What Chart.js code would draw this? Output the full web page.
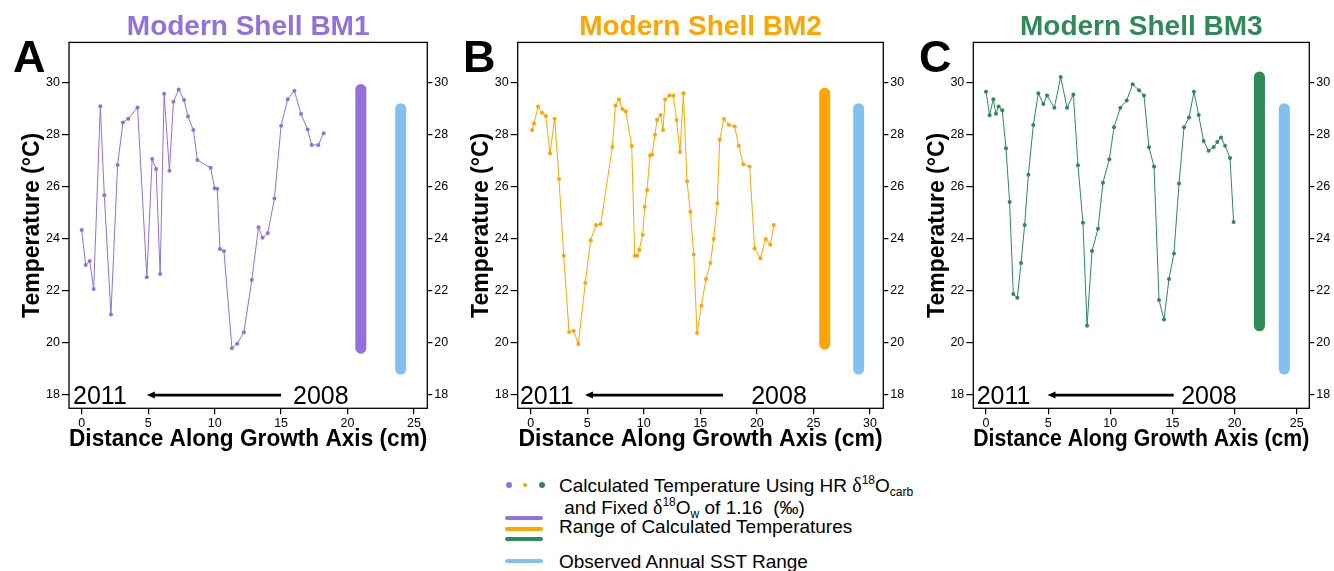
<!DOCTYPE html>
<html>
<head>
<meta charset="utf-8">
<script src="https://cdn.jsdelivr.net/npm/chart.js@4/dist/chart.umd.min.js"></script>
<style>
  body { margin: 0; background: #fff; font-family: "Liberation Sans", Arial, sans-serif; }
  #wrap { position: relative; width: 1334px; height: 571px; overflow: hidden; }
  canvas { position: absolute; top: 0; }
  .letter { position: absolute; top: 34px; font-size: 45px; font-weight: bold; line-height: 1; }
  .leg { position: absolute; left: 559px; font-size: 19px; line-height: 1; white-space: pre; }
  .sup { font-size: 12px; position: relative; top: -8px; }
  .sub { font-size: 12px; position: relative; top: 4px; }
  .delta { font-family: "Liberation Serif", serif; font-size: 20px; }
  .dot { position: absolute; border-radius: 50%; }
  .bar { position: absolute; left: 505px; width: 38px; height: 4px; border-radius: 2px; }
</style>
</head>
<body>
<div id="wrap">
  <canvas id="cA" width="450" height="460" style="left:0px"></canvas>
  <canvas id="cB" width="455" height="460" style="left:450px"></canvas>
  <canvas id="cC" width="429" height="460" style="left:905px"></canvas>
  <div class="letter" style="left:13px">A</div>
  <div class="letter" style="left:463px">B</div>
  <div class="letter" style="left:919px">C</div>

  <div class="dot" style="left:506px;top:482px;width:6px;height:6px;background:#9370DB"></div>
  <div class="dot" style="left:523px;top:483px;width:4px;height:4px;background:#FFA500"></div>
  <div class="dot" style="left:539px;top:482px;width:6px;height:6px;background:#2E8B57"></div>
  <div class="leg" style="top:474.6px">Calculated Temperature Using HR <span class="delta">δ</span><span class="sup">18</span>O<span class="sub">carb</span></div>
  <div class="leg" style="top:497.2px"> and Fixed <span class="delta">δ</span><span class="sup">18</span>O<span class="sub">w</span> of 1.16  (‰)</div>
  <div class="bar" style="top:516px;background:#9370DB"></div>
  <div class="bar" style="top:527px;background:#FFA500"></div>
  <div class="bar" style="top:537px;background:#2E8B57"></div>
  <div class="leg" style="top:517.2px">Range of Calculated Temperatures</div>
  <div class="bar" style="top:559px;background:#80C1EE"></div>
  <div class="leg" style="top:551.8px">Observed Annual SST Range</div>
</div>
<script>
const FONT = '"Liberation Sans", Arial, sans-serif';

// BM1 (panel A)
const bm1Dist = [0, 0.3, 0.6, 0.9, 1.4, 1.7, 2.2, 2.7, 3.1, 3.5, 4.2, 4.9, 5.3, 5.6, 5.9, 6.2, 6.6, 6.9, 7.3, 7.7,
  8.0, 8.4, 8.7, 9.7, 10.0, 10.2, 10.4, 10.7, 11.3, 11.7, 12.2, 12.8, 13.3, 13.6, 14.0, 14.5, 15.0, 15.5, 16.0, 16.5,
  17.0, 17.3, 17.8, 18.2];
const bm1Temp = [24.34, 23.0, 23.15, 22.07, 29.1, 25.68, 21.09, 26.84, 28.47, 28.62, 29.05, 22.53, 27.07, 26.69, 22.65, 29.58, 26.62, 29.27, 29.74, 29.34,
  28.70, 28.18, 27.03, 26.73, 25.95, 25.93, 23.61, 23.53, 19.80, 19.97, 20.41, 22.43, 24.45, 24.04, 24.23, 25.55, 28.35, 29.37, 29.69, 28.80,
  28.20, 27.61, 27.61, 28.06];

// BM2 (panel B)
const bm2Dist = [0.12, 0.29, 0.65, 1.0, 1.33, 1.71, 2.12, 2.5, 2.92, 3.39, 3.8, 4.21, 4.83, 5.3, 5.78, 6.19, 7.22, 7.49, 7.81, 8.1,
  8.4, 8.93, 9.2, 9.4, 9.6, 9.9, 10.08, 10.29, 10.55, 10.73, 10.99, 11.17, 11.49, 11.7, 11.88, 12.26, 12.61, 12.9, 13.2, 13.5,
  13.82, 14.12, 14.41, 14.71, 15.09, 15.5, 15.89, 16.18, 16.5, 16.71, 17.09, 17.51, 18.04, 18.39, 18.8, 19.36, 19.8, 20.31, 20.78, 21.19,
  21.49];
const bm2Temp = [28.18, 28.43, 29.09, 28.85, 28.72, 27.29, 28.62, 26.30, 23.35, 20.42, 20.47, 19.96, 22.31, 23.95, 24.53, 24.57, 27.53, 29.13, 29.36, 28.99,
  28.90, 27.58, 23.35, 23.35, 23.58, 24.16, 25.23, 25.88, 27.20, 27.24, 28.0, 28.58, 28.76, 28.18, 29.36, 29.51, 29.51, 28.57, 27.34, 29.60,
  26.21, 25.04, 23.40, 20.38, 21.43, 22.46, 23.07, 24.0, 25.37, 27.81, 28.61, 28.39, 28.32, 27.58, 26.87, 26.78, 23.63, 23.26, 24.0, 23.77,
  24.53];

// BM3 (panel C)
const bm3Dist = [0, 0.29, 0.59, 0.8, 1.02, 1.31, 1.61, 1.9, 2.2, 2.52, 2.82, 3.11, 3.41, 3.81, 4.21, 4.61, 4.91, 5.5, 6.01, 6.52,
  7.03, 7.4, 7.8, 8.13, 8.53, 9.01, 9.41, 9.92, 10.3, 10.81, 11.32, 11.8, 12.31, 12.71, 13.11, 13.52, 13.92, 14.32, 14.72, 15.12,
  15.53, 15.93, 16.33, 16.73, 17.11, 17.51, 17.91, 18.32, 18.61, 18.91, 19.23, 19.63, 19.92];
const bm3Temp = [29.65, 28.75, 29.37, 28.81, 29.09, 28.94, 27.48, 25.42, 21.88, 21.74, 23.07, 24.53, 26.46, 28.38, 29.60, 29.18, 29.51, 29.04, 30.22, 29.04,
  29.55, 26.83, 24.62, 20.66, 23.53, 24.39, 26.16, 27.06, 28.29, 29.04, 29.32, 29.94, 29.71, 29.51, 27.52, 26.78, 21.65, 20.90, 22.46, 23.44,
  26.13, 28.29, 28.66, 29.65, 28.76, 27.76, 27.39, 27.53, 27.72, 27.9, 27.58, 27.11, 24.65];

const sstRange = [19, 29];
const yTicks = [18, 20, 22, 24, 26, 28, 30];
const xTicks25 = [0, 5, 10, 15, 20, 25];
const xTicks30 = [0, 5, 10, 15, 20, 25, 30];
const SST_COLOR = '#80C1EE';

Chart.defaults.font.family = FONT;

const panelDecor = {
  id: 'panelDecor',
  afterDraw(chart, args, o) {
    const { ctx, chartArea: a, scales: { x, y } } = chart;
    ctx.save();
    ctx.strokeStyle = '#000';
    ctx.lineWidth = 1.3;
    ctx.strokeRect(a.left, a.top, a.right - a.left, a.bottom - a.top);
    const yy = y.getPixelForValue(o.arrowY);
    ctx.fillStyle = '#000';
    ctx.font = '25px ' + FONT;
    ctx.textBaseline = 'alphabetic';
    ctx.fillText('2011', x.getPixelForValue(o.leftX), yy + 9);
    ctx.fillText('2008', x.getPixelForValue(o.rightX), yy + 9);
    const x0 = x.getPixelForValue(o.from), x1 = x.getPixelForValue(o.to);
    ctx.lineWidth = 2.7;
    ctx.beginPath(); ctx.moveTo(x0, yy); ctx.lineTo(x1 + 6, yy); ctx.stroke();
    ctx.beginPath(); ctx.moveTo(x1, yy); ctx.lineTo(x1 + 8, yy - 3.5); ctx.lineTo(x1 + 8, yy + 3.5); ctx.closePath(); ctx.fill();
    ctx.restore();
  }
};

function makePanel(id, p) {
  const padLeft = p.yTitleX - p.left - 13.8;
  const tickFont = { size: 12.5, family: FONT };
  const yAxis = (pos, width, title) => ({
    type: 'linear', position: pos, min: 17.49, max: 31.55,
    afterBuildTicks: s => { s.ticks = yTicks.map(v => ({ value: v })); },
    afterFit: s => { s.width = width; },
    grid: { drawOnChartArea: false, tickLength: pos === 'left' ? 7 : 5, color: '#000', lineWidth: 1.2 },
    border: { display: false },
    ticks: { color: '#000', font: tickFont, padding: 2 },
    title: { display: !!title, text: title, color: '#000', font: { size: 23, weight: 'bold', family: FONT }, padding: 0 }
  });
  new Chart(document.getElementById(id), {
    type: 'scatter',
    data: {
      datasets: [
        { data: p.dist.map((d, i) => ({ x: d, y: p.temp[i] })), showLine: true, borderColor: p.color, backgroundColor: p.color,
          borderWidth: 1, pointRadius: 2, pointHoverRadius: 2, pointBorderWidth: 0 },
        { data: [{ x: p.calcX, y: Math.min(...p.temp) }, { x: p.calcX, y: Math.max(...p.temp) }], showLine: true,
          borderColor: p.color, borderWidth: 11, borderCapStyle: 'round', pointRadius: 0 },
        { data: [{ x: p.sstX, y: sstRange[0] }, { x: p.sstX, y: sstRange[1] }], showLine: true,
          borderColor: SST_COLOR, borderWidth: 11, borderCapStyle: 'round', pointRadius: 0 }
      ]
    },
    options: {
      responsive: false, animation: false, devicePixelRatio: 1,
      layout: { padding: { left: padLeft, right: 0, top: 0, bottom: 6.8 } },
      plugins: {
        legend: { display: false }, tooltip: { enabled: false },
        title: { display: true, text: p.title, color: p.color, fullSize: false,
          font: { size: 28, weight: 'bold', family: FONT, lineHeight: 1.1 }, padding: { top: 11.6, bottom: 0 } },
        panelDecor: p.note
      },
      scales: {
        x: {
          type: 'linear', position: 'bottom', min: p.xMin, max: p.xMax,
          afterBuildTicks: s => { s.ticks = p.xTicks.map(v => ({ value: v })); },
          afterFit: s => { s.height = 44.9; },
          grid: { drawOnChartArea: false, tickLength: 6, color: '#000', lineWidth: 1.2 },
          border: { display: false },
          ticks: { color: '#000', font: tickFont, padding: 2, maxRotation: 0 },
          title: { display: true, text: 'Distance Along Growth Axis (cm)', color: '#000',
            font: { size: 23, weight: 'bold', family: FONT }, padding: 0 }
        },
        y: yAxis('left', p.areaLeft - p.left - padLeft, 'Temperature (°C)'),
        y2: yAxis('right', p.left + p.width - p.areaRight, '')
      }
    },
    plugins: [panelDecor]
  });
}

makePanel('cA', { left: 0, width: 450, areaLeft: 69, areaRight: 427.3, yTitleX: 33,
  xMin: -0.956, xMax: 26.0, xTicks: xTicks25, dist: bm1Dist, temp: bm1Temp, color: '#9370DB',
  title: 'Modern Shell BM1', calcX: 21, sstX: 24,
  note: { arrowY: 18, leftX: -0.65, rightX: 15.9, from: 15, to: 4.9 } });
makePanel('cB', { left: 450, width: 455, areaLeft: 517.7, areaRight: 883.3, yTitleX: 482,
  xMin: -1.15, xMax: 31.18, xTicks: xTicks30, dist: bm2Dist, temp: bm2Temp, color: '#FFA500',
  title: 'Modern Shell BM2', calcX: 26, sstX: 29,
  note: { arrowY: 18, leftX: -0.95, rightX: 19.5, from: 17, to: 4.8 } });
makePanel('cC', { left: 905, width: 429, areaLeft: 973.3, areaRight: 1309.3, yTitleX: 938,
  xMin: -1.02, xMax: 26.01, xTicks: xTicks25, dist: bm3Dist, temp: bm3Temp, color: '#2E8B57',
  title: 'Modern Shell BM3', calcX: 22, sstX: 24,
  note: { arrowY: 18, leftX: -0.75, rightX: 15.7, from: 15.1, to: 4.95 } });
</script>
</body>
</html>
